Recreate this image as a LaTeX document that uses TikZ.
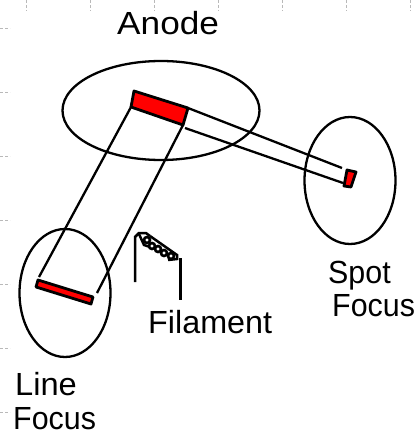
\documentclass[tikz,border=0pt]{standalone}
\usepackage{fontspec}
\setmainfont{Liberation Sans}
\begin{document}
\begin{tikzpicture}[
  x=1pt, y=-1pt,
  lens/.style={draw=black, line width=2.3pt},
  beam/.style={draw=black, line width=2.3pt},
  target/.style={draw=black, fill=red, line width=2.8pt, line join=round},
  wire/.style={draw=black, line width=2.5pt},
  coilring/.style={draw=black, fill=white, circle, line width=2.6pt, inner sep=0pt, minimum size=6pt},
  lbl/.style={font=\fontsize{32}{32}\selectfont, text=black, inner sep=0pt, anchor=base west, transform shape},
  tick/.style={draw=gray!55, line width=0.9pt, densely dashed},
]
\useasboundingbox (0,0) rectangle (416,433);

% ===== Faint page marks =====
\foreach \tx in {26,90,154,218,282,346,410} {
  \draw[tick] (\tx,0) -- (\tx,11);
}
\foreach \ty in {28,92,156,220,284,348,412} {
  \draw[tick] (0,\ty) -- (10,\ty);
}

% ===== Focus ellipses =====
\draw[lens] (161,110.5) ellipse (98.5 and 49.5);
\draw[lens] (65,293) ellipse (45.5 and 64);
\draw[lens] (350,180.5) ellipse (45.5 and 63.5);

% ===== Beams =====
\draw[beam] (131,107) -- (39,277);
\draw[beam] (183,125) -- (97,293);
\draw[beam] (188,108) -- (342,168);
\draw[beam] (185,128) -- (343,183);

% ===== Red targets =====
\draw[target] (134,91) -- (188,108) -- (183,125) -- (131,107) -- cycle;
\draw[target] (38,280) -- (93,297) -- (91,304) -- (36,287) -- cycle;
\draw[target] (347,170) -- (356,172) -- (351,187) -- (344,186) -- cycle;

% ===== Filament =====
\draw[wire] (135,282) -- (135,237) -- (139,233) -- (146,233) -- (150,236);
\draw[wire] (180.5,258) -- (180.5,300);
\draw[wire] (139,234) -- (144,245) -- (150,247);
\foreach \cx/\cy in {147/240,152/246,158/249,164/253,171/256} {
  \node[coilring] (coil\cx) at (\cx,\cy) {};
}
\draw[wire] (150,236) -- (177,255) -- (177,259) -- (168,260);

% ===== Labels =====
\node[lbl, xscale=1.1] (anode) at (117,35) {Anode};
\node[lbl, xscale=.95] (spot) at (328,283) {Spot};
\node[lbl, xscale=.95] (spotfocus) at (332,316) {Focus};
\node[lbl, xscale=1.01] (filament) at (148,333) {Filament};
\node[lbl, xscale=1.02] (line) at (15,395) {Line};
\node[lbl, xscale=.95] (linefocus) at (13,429) {Focus};
\end{tikzpicture}
\end{document}
